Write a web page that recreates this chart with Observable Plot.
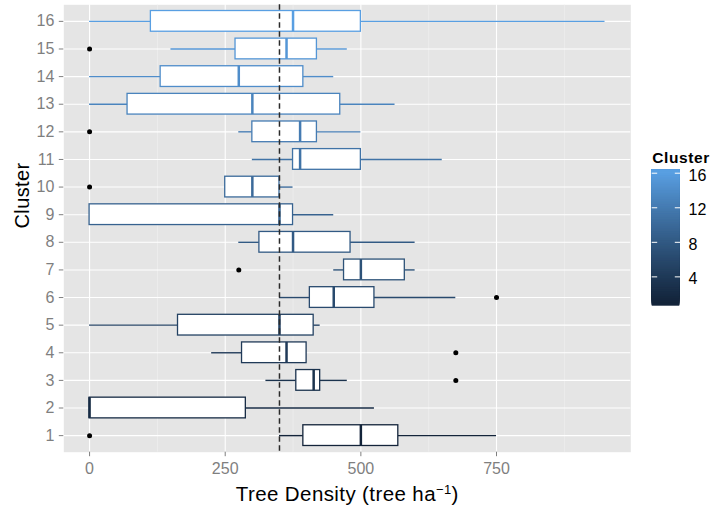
<!DOCTYPE html>
<html>
<head>
<meta charset="utf-8">
<script src="https://cdn.jsdelivr.net/npm/d3@7"></script>
<script src="https://cdn.jsdelivr.net/npm/@observablehq/plot@0.6"></script>
<style>
  html, body { margin: 0; padding: 0; background: white; }
  #wrap { position: relative; width: 714px; height: 512px; overflow: hidden; }
  #legend { position: absolute; left: 640px; top: 140px; }
  svg { overflow: visible; }
</style>
</head>
<body>
<div id="wrap"><div id="main"></div><div id="legend"></div></div>
<script>
// ---- data ----
const clusters = [1, 2, 3, 4, 5, 6, 7, 8, 9, 10, 11, 12, 13, 14, 15, 16];
const lowerWhisker = [350, 0, 325, 225, 0, 350, 450, 275, 0, 250, 300, 275, 0, 0, 150, 0];
const q1Values     = [394, 0, 381, 281, 163, 406, 469, 313, 0, 250, 375, 300, 70, 131, 269, 113];
const medianValues = [500, 0, 413, 363, 350, 450, 500, 375, 350, 300, 388, 388, 300, 275, 363, 375];
const q3Values     = [569, 288, 425, 400, 413, 525, 581, 481, 375, 350, 500, 419, 462, 394, 419, 500];
const upperWhisker = [750, 525, 475, 400, 425, 675, 600, 600, 450, 375, 650, 500, 563, 450, 475, 950];
const outlierCluster = [1, 3, 4, 6, 7, 10, 12, 15];
const outlierValue   = [0, 675, 675, 750, 275, 0, 0, 0];
const referenceLine = 350;
const xMajorTicks = [0, 250, 500, 750];
const xMinorTicks = [125, 375, 625, 875];
const legendTicks = [4, 8, 12, 16];
const xTitle = "Tree Density (tree ha-1)";
const yTitle = "Cluster";
const legendTitle = "Cluster";

// ---- tables ----
const rows = clusters.map((c, i) => ({
  cluster: c, lower: lowerWhisker[i], q1: q1Values[i], median: medianValues[i],
  q3: q3Values[i], upper: upperWhisker[i]
}));
const outliers = outlierCluster.map((c, i) => ({cluster: c, value: outlierValue[i]}));

const colorScale = {type: "linear", domain: [1, 16], range: ["#13243A", "#599FE2"], interpolate: "lab", clamp: true};
const font = "'Liberation Sans', Arial, Helvetica, sans-serif";
const halfBox = 0.375;

const chart = Plot.plot({
  width: 714, height: 512,
  marginLeft: 63.3, marginRight: 83.7, marginTop: 4.3, marginBottom: 60.3,
  style: {fontFamily: font, fontSize: "16px", background: "white", overflow: "visible"},
  x: {domain: [-47.5, 997.5], label: null},
  y: {domain: [0.4, 16.6], label: null},
  color: colorScale,
  marks: [
    Plot.frame({fill: "#E5E5E5", stroke: "none"}),
    Plot.ruleX(xMinorTicks, {stroke: "#F2F2F2", strokeWidth: 0.6}),
    Plot.ruleX(xMajorTicks, {stroke: "white", strokeWidth: 1.1}),
    Plot.ruleY(clusters, {stroke: "white", strokeWidth: 1.1}),
    Plot.dot(outliers, {x: "value", y: "cluster", r: 2.5, fill: "black", stroke: "none"}),
    Plot.ruleY(rows.filter(d => d.lower < d.q1), {y: "cluster", x1: "lower", x2: "q1", stroke: "cluster", strokeWidth: 1.4}),
    Plot.ruleY(rows.filter(d => d.upper > d.q3), {y: "cluster", x1: "q3", x2: "upper", stroke: "cluster", strokeWidth: 1.4}),
    Plot.rect(rows, {x1: "q1", x2: "q3", y1: d => d.cluster - halfBox, y2: d => d.cluster + halfBox,
      fill: "white", stroke: "cluster", strokeWidth: 1.3}),
    Plot.ruleX(rows, {x: "median", y1: d => d.cluster - halfBox, y2: d => d.cluster + halfBox,
      stroke: "cluster", strokeWidth: 2.5}),
    Plot.ruleX([referenceLine], {stroke: "#2a2a2a", strokeWidth: 1.5, strokeDasharray: "5.5,3.5"}),
    Plot.axisX({ticks: xMajorTicks, tickSize: 4.5, tickPadding: 6, fontSize: 16, color: "#7F7F7F", label: null, tickFormat: d => String(d)}),
    Plot.axisY({ticks: clusters, tickSize: 4.5, tickPadding: 5, fontSize: 16, color: "#7F7F7F", label: null, tickFormat: d => String(d)}),
    Plot.text([xTitle], {text: d => d, frameAnchor: "bottom", lineAnchor: "middle", dy: 42.5, fontSize: 20.5, fill: "black"}),
    Plot.text([yTitle], {text: d => d, frameAnchor: "left", lineAnchor: "middle", dx: -41.5, rotate: -90, fontSize: 20, fill: "black"})
  ]
});

// superscript in x title
const NS = "http://www.w3.org/2000/svg";
chart.querySelectorAll("text").forEach(t => {
  if (t.textContent === xTitle) {
    t.textContent = "";
    t.setAttribute("letter-spacing", "0.4");
    const a = document.createElementNS(NS, "tspan"); a.textContent = "Tree Density (tree ha";
    const b = document.createElementNS(NS, "tspan"); b.textContent = "\u22121";
    b.setAttribute("dy", "-7"); b.setAttribute("font-size", "13");
    const c = document.createElementNS(NS, "tspan"); c.textContent = ")"; c.setAttribute("dy", "7");
    t.append(a, b, c);
  }
  if (t.textContent === yTitle) t.setAttribute("letter-spacing", "0.4");
});
document.getElementById("main").append(chart);

// ---- colorbar legend ----
const barLow = 0.605, barHigh = 16.395, barStep = 0.08;
// each slice runs from its start to the top, later slices paint over earlier ones (no seams)
const barBins = d3.range(barLow, barHigh, barStep).map(v => ({y1: v, y2: barHigh, v: v + barStep / 2}));
const legend = Plot.plot({
  width: 74, height: 172,
  marginLeft: 11.7, marginRight: 34.7, marginTop: 29.3, marginBottom: 6.3,
  style: {fontFamily: font, fontSize: "16px", background: "transparent", overflow: "visible"},
  y: {domain: [barLow, barHigh], label: null},
  color: colorScale,
  marks: [
    Plot.rect(barBins, {y1: "y1", y2: "y2", fill: "v"}),
    Plot.axisY({anchor: "left", ticks: legendTicks, tickSize: -5.5, color: "white", strokeWidth: 1, tickFormat: () => "", label: null}),
    Plot.axisY({anchor: "right", ticks: legendTicks, tickSize: -5.5, color: "white", strokeWidth: 1, tickFormat: () => "", label: null}),
    Plot.axisY({anchor: "right", ticks: legendTicks, tickSize: 0, tickPadding: 8.7, dy: 2.5, fontSize: 16, color: "black", label: null, tickFormat: d => String(d)}),
    Plot.text([legendTitle], {text: d => d, frameAnchor: "top-left", lineAnchor: "middle", dy: -11.3, textAnchor: "start", fontWeight: "bold", fontSize: 15.5, fill: "black"})
  ]
});
legend.querySelectorAll("text").forEach(t => { if (t.textContent === legendTitle) t.setAttribute("letter-spacing", "0.6"); });
document.getElementById("legend").append(legend);
</script>
</body>
</html>
